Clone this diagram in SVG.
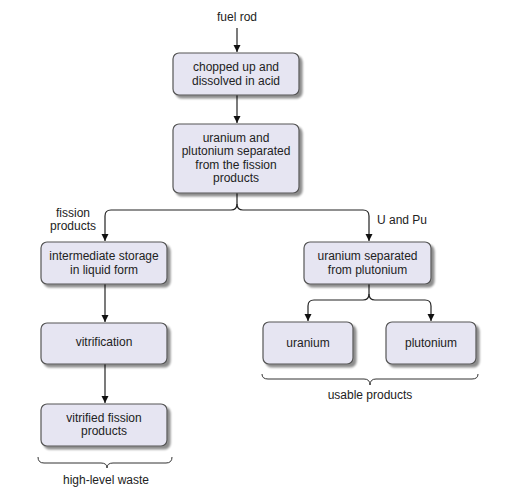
<svg xmlns="http://www.w3.org/2000/svg" width="512" height="499" viewBox="0 0 512 499">
<defs>
<marker id="ah" viewBox="0 0 10 10" refX="10" refY="5" markerWidth="7" markerHeight="8" markerUnits="userSpaceOnUse" orient="auto">
<path d="M0,0 L10,5 L0,10 Z" fill="#111"/>
</marker>
<filter id="sh" x="-10%" y="-10%" width="130%" height="140%">
<feOffset in="SourceAlpha" dx="2.5" dy="2.5" result="o"/>
<feGaussianBlur in="o" stdDeviation="1" result="b"/>
<feComponentTransfer in="b" result="c"><feFuncA type="linear" slope="0.45"/></feComponentTransfer>
<feMerge><feMergeNode in="c"/><feMergeNode in="SourceGraphic"/></feMerge>
</filter>
</defs>
<style>
.box{fill:#e6e5f2;stroke:#555;stroke-width:1.2;filter:url(#sh)}
text{font-family:"Liberation Sans",Arial,sans-serif;font-size:12px;fill:#222;text-anchor:middle}
.ln{fill:none;stroke:#222;stroke-width:1.2}
.br{fill:none;stroke:#333;stroke-width:1}
</style>
<rect width="512" height="499" fill="#fff"/>
<g id="connectors">
<path class="ln" d="M237,28 V52" marker-end="url(#ah)"/>
<path class="ln" d="M237,95 V123" marker-end="url(#ah)"/>
<path class="ln" d="M237,193 V204 Q237,210 231,210 H111 Q105,210 105,216 V241" marker-end="url(#ah)"/>
<path class="ln" d="M237,204 Q237,210 243,210 H363 Q369,210 369,216 V241"  marker-end="url(#ah)"/>
<path class="ln" d="M105,284 V322" marker-end="url(#ah)"/>
<path class="ln" d="M105,364 V403" marker-end="url(#ah)"/>
<path class="ln" d="M369,284 V294 Q369,300 363,300 H314 Q308,300 308,306 V321" marker-end="url(#ah)"/>
<path class="ln" d="M369,294 Q369,300 375,300 H425 Q431,300 431,306 V321" marker-end="url(#ah)"/>
</g>
<g id="fuel-rod"><text x="237" y="21">fuel rod</text></g>
<g id="chopped">
<rect class="box" x="173" y="53" width="126" height="42" rx="6"/>
<text x="236" y="71">chopped up and</text>
<text x="236" y="84.5">dissolved in acid</text>
</g>
<g id="separated">
<rect class="box" x="173" y="124" width="126" height="69" rx="6"/>
<text x="236" y="141.5">uranium and</text>
<text x="236" y="155">plutonium separated</text>
<text x="236" y="168.5">from the fission</text>
<text x="236" y="182">products</text>
</g>
<g id="fission-label">
<text x="73" y="217">fission</text>
<text x="73" y="229.5">products</text>
</g>
<g id="upu-label"><text x="377" y="224" style="text-anchor:start">U and Pu</text></g>
<g id="storage">
<rect class="box" x="41" y="242" width="126" height="42" rx="6"/>
<text x="104" y="260">intermediate storage</text>
<text x="104" y="273.5">in liquid form</text>
</g>
<g id="vitrification">
<rect class="box" x="41" y="323" width="126" height="41" rx="6"/>
<text x="104" y="346">vitrification</text>
</g>
<g id="vitrified">
<rect class="box" x="41" y="404" width="126" height="42" rx="6"/>
<text x="104" y="421.5">vitrified fission</text>
<text x="104" y="435">products</text>
</g>
<g id="u-sep">
<rect class="box" x="304" y="242" width="127" height="42" rx="6"/>
<text x="367.5" y="260">uranium separated</text>
<text x="367.5" y="273.5">from plutonium</text>
</g>
<g id="uranium">
<rect class="box" x="263" y="322" width="90" height="42" rx="6"/>
<text x="308" y="347">uranium</text>
</g>
<g id="plutonium">
<rect class="box" x="386" y="322" width="90" height="42" rx="6"/>
<text x="431" y="347">plutonium</text>
</g>
<g id="high-level-waste">
<path class="br" d="M38,457 Q38,463 44,463 H101 Q107,463 107,468 Q107,463 113,463 H166 Q172,463 172,457"/>
<text x="106" y="484">high-level waste</text>
</g>
<g id="usable-products">
<path class="br" d="M262,374 Q262,379 268,379 H364 Q370,379 370,385 Q370,379 376,379 H472 Q478,379 478,374"/>
<text x="370" y="399">usable products</text>
</g>
</svg>
